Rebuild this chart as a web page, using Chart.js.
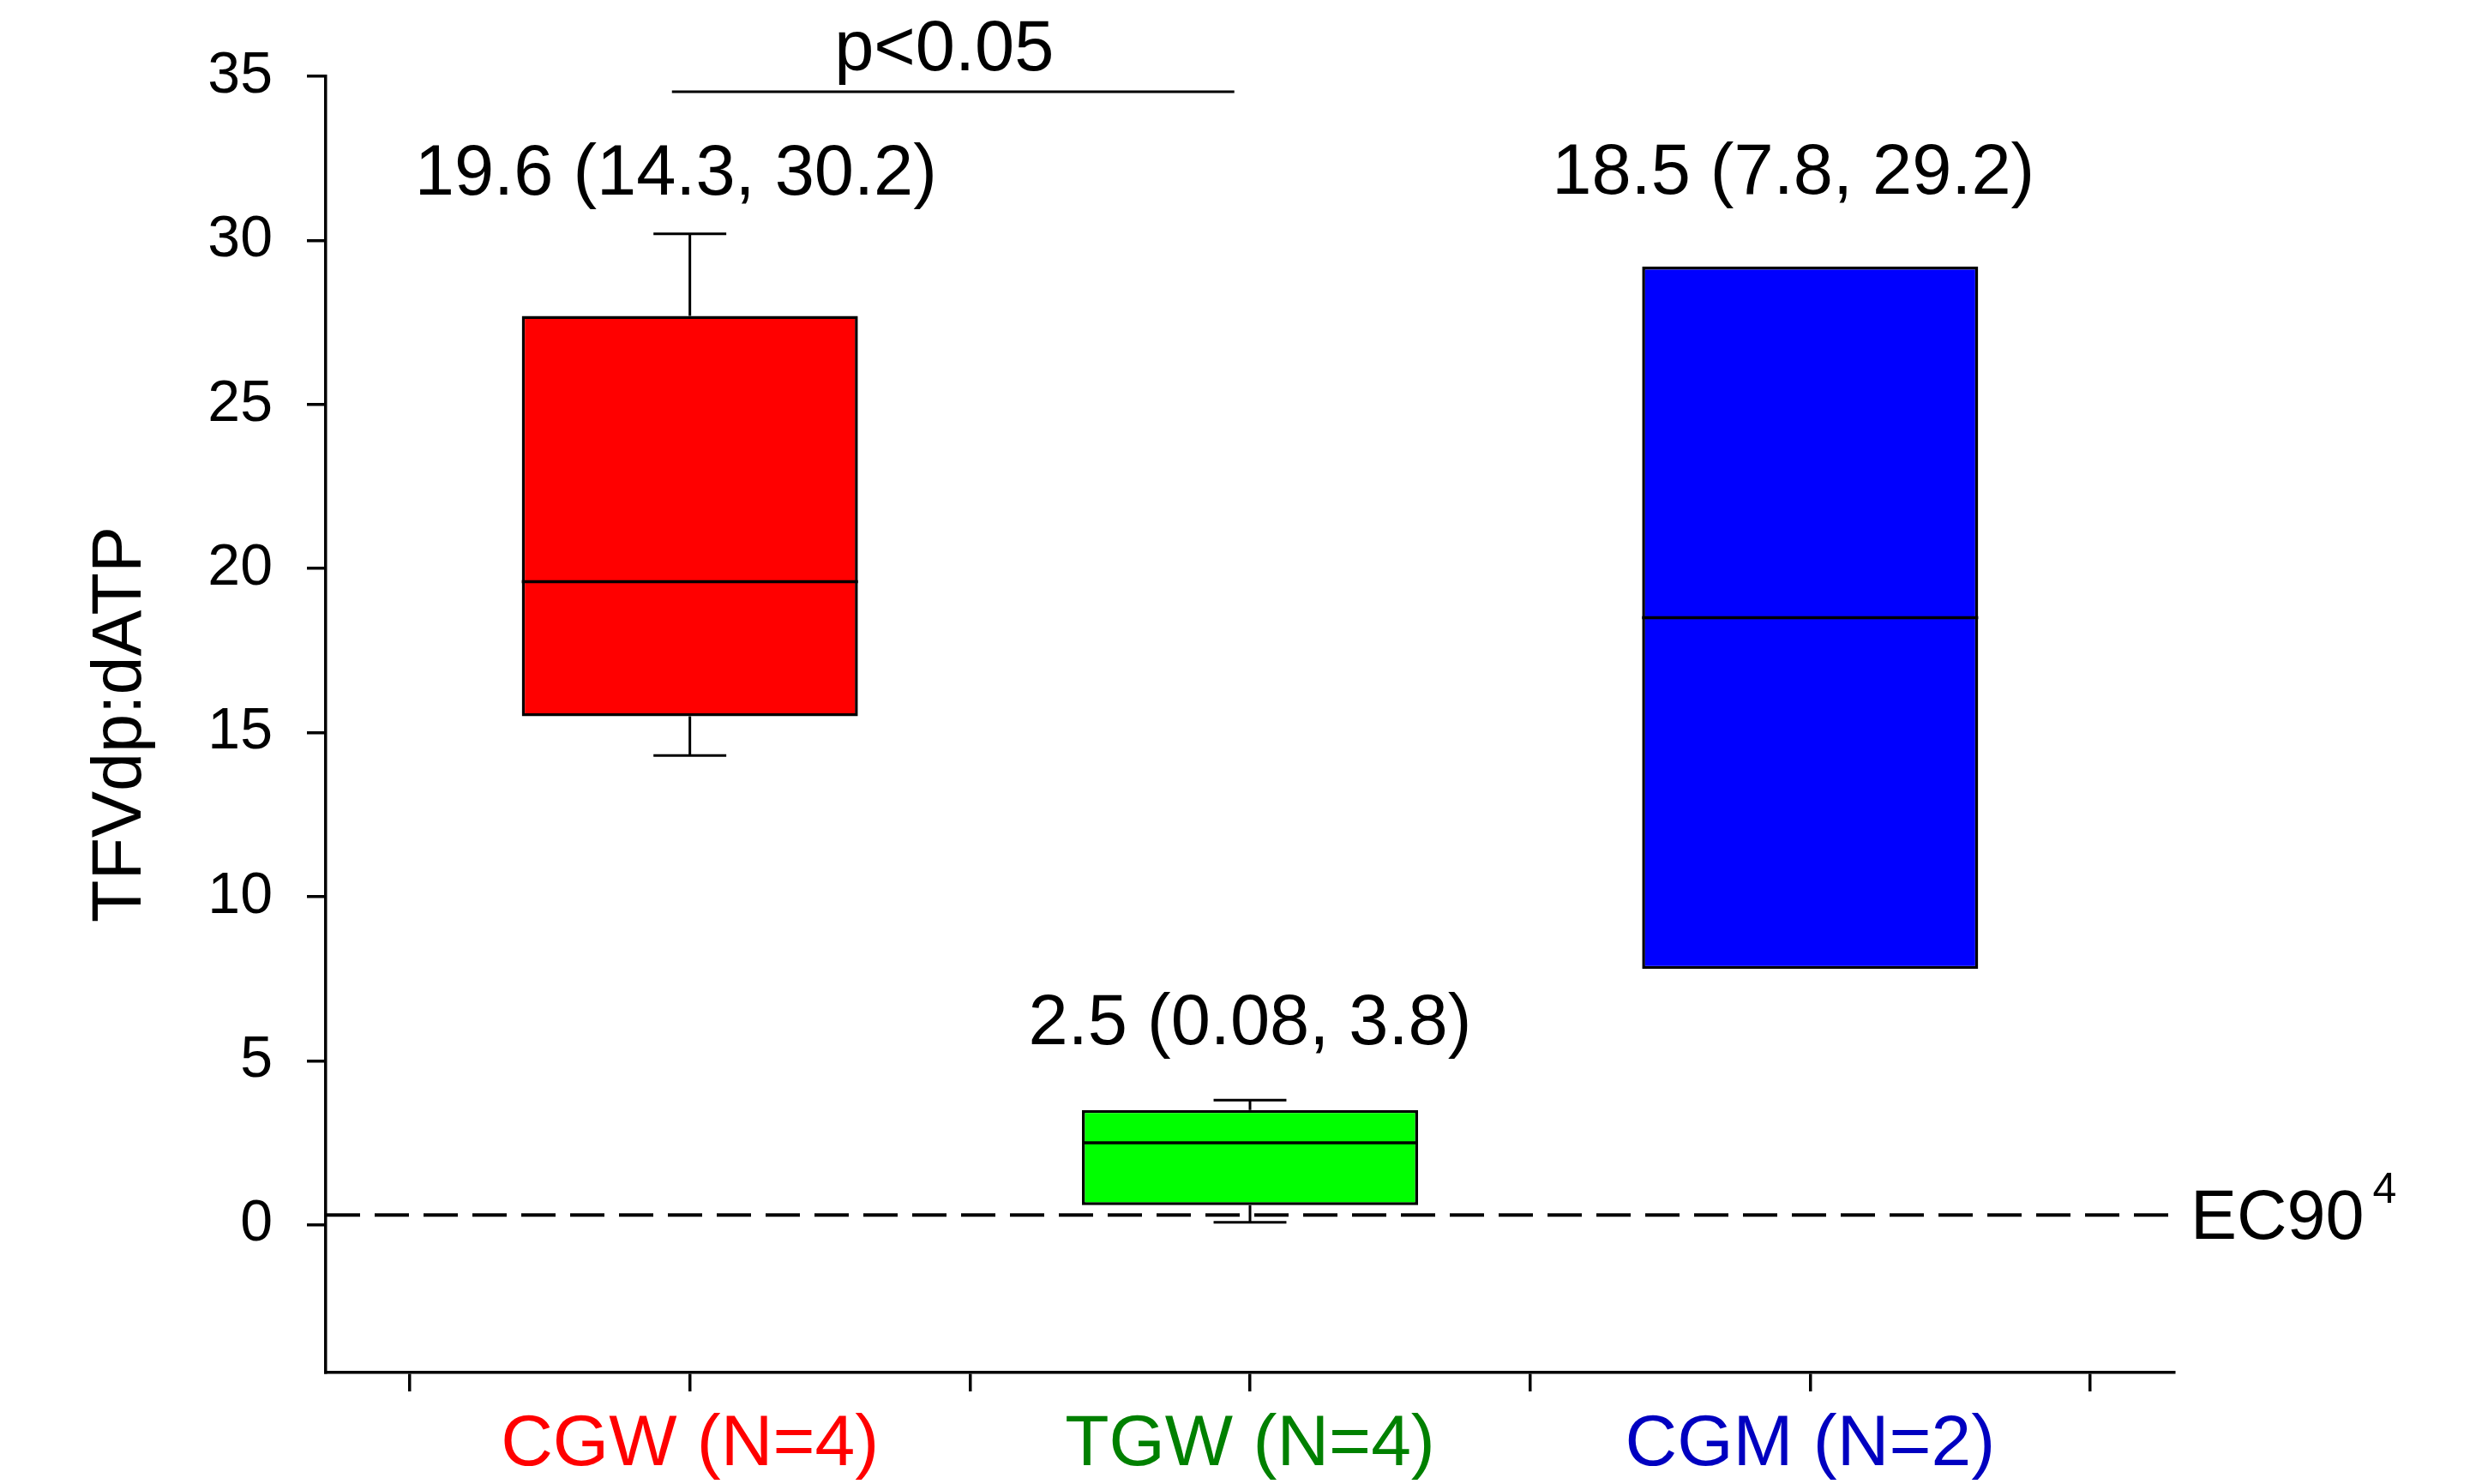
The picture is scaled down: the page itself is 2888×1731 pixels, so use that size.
<!DOCTYPE html>
<html>
<head>
<meta charset="utf-8">
<title>TFVdp:dATP by group</title>
<script src="https://cdn.jsdelivr.net/npm/chart.js@4.4.1/dist/chart.umd.min.js"></script>
<style>
  html, body { margin: 0; padding: 0; background: #ffffff; }
  #wrap { position: relative; width: 2888px; height: 1731px; }
</style>
</head>
<body>
<div id="wrap"><canvas id="chart"></canvas></div>
<script>
// ---- data ----
const CATEGORIES   = ['CGW (N=4)', 'TGW (N=4)', 'CGM (N=2)'];
const CATEGORY_X   = [1, 2, 3];
const MINS         = [14.3, 0.08, 7.8];
const Q1S          = [15.5, 0.6, 7.8];
const MEDIANS      = [19.6, 2.5, 18.5];
const Q3S          = [27.7, 3.5, 29.2];
const MAXS         = [30.2, 3.8, 29.2];
const EC90         = 0.3;
const Y_TICKS      = [0, 5, 10, 15, 20, 25, 30, 35];
const X_TICKS      = [0.5, 1, 1.5, 2, 2.5, 3, 3.5];

// ---- styling ----
const BOX_FILLS    = ['#ff0000', '#00ff00', '#0000ff'];
const LABEL_COLORS = ['#ff0000', '#008000', '#0000c0'];
const FONT         = '"Liberation Sans", Arial, Helvetica, sans-serif';
const X_MIN = 0.35, X_MAX = 3.65, Y_MIN = -4.5, Y_MAX = 35;
const BOX_WIDTH = 0.6;          // in category units
const CAP_WIDTH = 0.13;         // whisker cap, category units
const X_TICK_STEP = 0.5;

// summary text above each box: median (min, max)
const SUMMARY_POS = [
  { x: 0.975, y: 31.4 },
  { x: 2.0,   y: 5.5 },
  { x: 2.97,  y: 31.42 }
];
const BRACKET = { from: 0.968, to: 1.972, y: 34.53, textX: 1.454, textY: 35.18, text: 'p<0.05' };

Chart.defaults.font.family = FONT;
Chart.defaults.color = '#000000';

// medians and whiskers on top of the floating bars
const boxExtras = {
  id: 'boxExtras',
  afterDatasetsDraw(chart) {
    const ctx = chart.ctx;
    const xs = chart.scales.x, ys = chart.scales.y;
    const meta = chart.getDatasetMeta(0);
    ctx.save();
    ctx.strokeStyle = '#000000';
    ctx.lineCap = 'butt';
    meta.data.forEach((bar, i) => {
      const cx = bar.x;
      const half = bar.width / 2;
      const capL = xs.getPixelForValue(CATEGORY_X[i] - CAP_WIDTH / 2);
      const capR = xs.getPixelForValue(CATEGORY_X[i] + CAP_WIDTH / 2);
      ctx.lineWidth = 3;
      if (MAXS[i] > Q3S[i]) {
        const yTop = ys.getPixelForValue(MAXS[i]);
        const yQ3 = ys.getPixelForValue(Q3S[i]);
        ctx.beginPath();
        ctx.moveTo(cx, yQ3); ctx.lineTo(cx, yTop);
        ctx.moveTo(capL, yTop); ctx.lineTo(capR, yTop);
        ctx.stroke();
      }
      if (MINS[i] < Q1S[i]) {
        const yBot = ys.getPixelForValue(MINS[i]);
        const yQ1 = ys.getPixelForValue(Q1S[i]);
        ctx.beginPath();
        ctx.moveTo(cx, yQ1); ctx.lineTo(cx, yBot);
        ctx.moveTo(capL, yBot); ctx.lineTo(capR, yBot);
        ctx.stroke();
      }
      ctx.lineWidth = 3.5;
      const yMed = ys.getPixelForValue(MEDIANS[i]);
      ctx.beginPath();
      ctx.moveTo(cx - half, yMed); ctx.lineTo(cx + half, yMed);
      ctx.stroke();
    });
    ctx.restore();
  },
  afterDraw(chart) {
    const ctx = chart.ctx;
    const xs = chart.scales.x, ys = chart.scales.y;
    ctx.save();
    ctx.fillStyle = '#000000';
    ctx.textBaseline = 'alphabetic';

    // group summaries
    ctx.font = '83px ' + FONT;
    ctx.textAlign = 'center';
    CATEGORIES.forEach((c, i) => {
      const txt = `${MEDIANS[i]} (${MINS[i]}, ${MAXS[i]})`;
      ctx.fillText(txt, xs.getPixelForValue(SUMMARY_POS[i].x), ys.getPixelForValue(SUMMARY_POS[i].y));
    });

    // significance bracket
    ctx.strokeStyle = '#000000';
    ctx.lineWidth = 3;
    const by = ys.getPixelForValue(BRACKET.y);
    ctx.beginPath();
    ctx.moveTo(xs.getPixelForValue(BRACKET.from), by);
    ctx.lineTo(xs.getPixelForValue(BRACKET.to), by);
    ctx.stroke();
    ctx.fillText(BRACKET.text, xs.getPixelForValue(BRACKET.textX), ys.getPixelForValue(BRACKET.textY));

    // EC90 reference label with superscript
    const ly = ys.getPixelForValue(EC90);
    const lx = chart.chartArea.right + 19;
    ctx.textAlign = 'left';
    ctx.font = '81px ' + FONT;
    ctx.fillText('EC90', lx, ly + 28);
    const w = ctx.measureText('EC90').width;
    ctx.font = '50px ' + FONT;
    ctx.fillText('4', lx + w + 10, ly - 14);
    ctx.restore();
  }
};

new Chart(document.getElementById('chart'), {
  type: 'bar',
  data: {
    datasets: [
      {
        type: 'bar',
        label: 'TFVdp:dATP',
        data: CATEGORY_X.map((x, i) => ({ x: x, y: [Q1S[i], Q3S[i]] })),
        backgroundColor: BOX_FILLS,
        borderColor: '#000000',
        borderWidth: 3.5,
        borderSkipped: false,
        categoryPercentage: BOX_WIDTH / X_TICK_STEP,
        barPercentage: 1,
        order: 2
      },
      {
        type: 'line',
        label: 'EC90',
        data: [{ x: X_MIN, y: EC90 }, { x: X_MAX, y: EC90 }],
        borderColor: '#000000',
        borderWidth: 4,
        borderDash: [40, 17],
        pointRadius: 0,
        fill: false,
        order: 1
      }
    ]
  },
  options: {
    responsive: true,
    maintainAspectRatio: false,
    animation: false,
    events: [],
    layout: { padding: { top: 89, right: 352, left: 0, bottom: 0 } },
    plugins: {
      legend: { display: false },
      tooltip: { enabled: false },
      title: { display: false }
    },
    scales: {
      x: {
        type: 'linear',
        min: X_MIN,
        max: X_MAX,
        offset: false,
        afterBuildTicks(scale) { scale.ticks = X_TICKS.map(v => ({ value: v })); },
        afterFit(scale) { scale.height = 130; },
        grid: {
          display: true,
          offset: false,
          drawOnChartArea: false,
          drawTicks: true,
          tickLength: 22,
          tickWidth: 3.5,
          lineWidth: 3.5,
          tickColor: '#000000',
          color: '#000000'
        },
        border: { display: true, color: '#000000', width: 3.5 },
        ticks: {
          autoSkip: false,
          maxRotation: 0,
          minRotation: 0,
          padding: 12,
          font: { size: 84, family: FONT },
          color: (c) => {
            const i = CATEGORY_X.indexOf(c.tick && c.tick.value);
            return i >= 0 ? LABEL_COLORS[i] : '#000000';
          },
          callback: (v) => {
            const i = CATEGORY_X.indexOf(v);
            return i >= 0 ? CATEGORIES[i] : '';
          }
        }
      },
      y: {
        type: 'linear',
        min: Y_MIN,
        max: Y_MAX,
        afterBuildTicks(scale) { scale.ticks = Y_TICKS.map(v => ({ value: v })); },
        afterFit(scale) { scale.width = 380; },
        grid: {
          display: true,
          drawOnChartArea: false,
          drawTicks: true,
          tickLength: 22,
          tickWidth: 3.5,
          lineWidth: 3.5,
          tickColor: '#000000',
          color: '#000000'
        },
        border: { display: true, color: '#000000', width: 3.5 },
        ticks: {
          padding: 40,
          font: { size: 68, family: FONT },
          color: '#000000'
        },
        title: {
          display: true,
          text: 'TFVdp:dATP',
          color: '#000000',
          font: { size: 81, family: FONT },
          padding: { top: 93, bottom: 0 }
        }
      }
    }
  },
  plugins: [boxExtras]
});
</script>
</body>
</html>
